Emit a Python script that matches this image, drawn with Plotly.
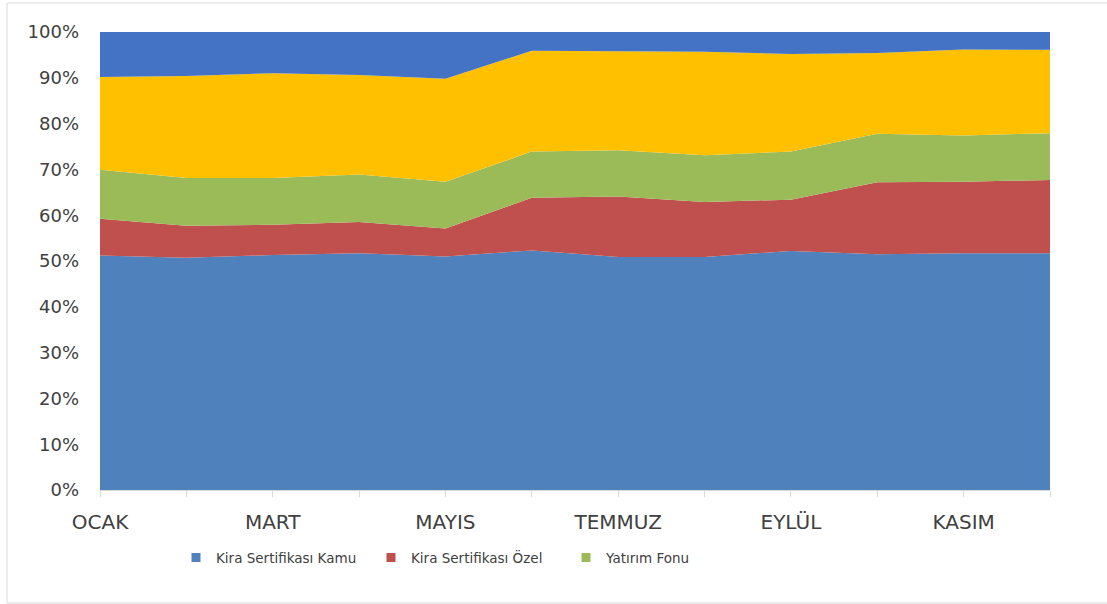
import plotly.graph_objects as go

months = ["OCAK", "ŞUBAT", "MART", "NİSAN", "MAYIS", "HAZİRAN",
          "TEMMUZ", "AĞUSTOS", "EYLÜL", "EKİM", "KASIM", "ARALIK"]
tick_labels = ["OCAK", "", "MART", "", "MAYIS", "", "TEMMUZ", "", "EYLÜL", "", "KASIM", ""]

kira_kamu = [51.2, 50.7, 51.3, 51.7, 51.0, 52.3, 50.9, 50.9, 52.2, 51.5, 51.7, 51.7]
kira_ozel = [8.0, 7.0, 6.6, 6.8, 6.1, 11.5, 13.2, 12.0, 11.2, 15.7, 15.6, 16.0]
yatirim_fonu = [10.7, 10.4, 10.2, 10.4, 10.2, 10.1, 10.1, 10.2, 10.5, 10.6, 10.1, 10.2]
katilma_hesabi = [20.3, 22.3, 22.9, 21.7, 22.5, 22.0, 21.6, 22.6, 21.3, 17.6, 18.8, 18.2]
diger = [9.8, 9.6, 9.0, 9.4, 10.2, 4.1, 4.2, 4.3, 4.8, 4.6, 3.8, 3.9]

series = [
    ("Kira Sertifikası Kamu", kira_kamu, "#4F81BD", True),
    ("Kira Sertifikası Özel", kira_ozel, "#C0504D", True),
    ("Yatırım Fonu", yatirim_fonu, "#9BBB59", True),
    ("Katılma Hesabı", katilma_hesabi, "#FFC000", False),
    ("Diğer", diger, "#4472C4", False),
]

fig = go.Figure()
for name, vals, color, _ in series:
    fig.add_trace(go.Scatter(
        x=months, y=vals, name=name, mode="none",
        stackgroup="one", groupnorm="percent",
        fillcolor=color, line=dict(width=0),
        showlegend=False, hoverinfo="x+y+name",
    ))
# legend entries (small squares like the original)
for name, vals, color, show in series:
    if show:
        fig.add_trace(go.Scatter(
            x=[None], y=[None], name=name, mode="markers",
            marker=dict(symbol="square", size=9, color=color),
            showlegend=True,
        ))

font_family = "DejaVu Sans"
fig.update_layout(
    width=1107, height=604,
    margin=dict(l=100, r=57, t=32, b=114),
    paper_bgcolor="white", plot_bgcolor="white",
    font=dict(family=font_family, color="#404040"),
    showlegend=True,
    legend=dict(
        orientation="h", traceorder="normal",
        x=0.08, xanchor="left", y=-0.148, yanchor="middle",
        font=dict(size=13.5, color="#404040"),
        itemwidth=30, entrywidth=150, entrywidthmode="pixels",
        bgcolor="rgba(0,0,0,0)",
    ),
    xaxis=dict(
        type="category", range=[0, 11],
        tickmode="array", tickvals=months, ticktext=tick_labels,
        showgrid=False, zeroline=False,
        showline=True, linecolor="#d9d9d9", linewidth=1,
        ticks="outside", ticklen=6, tickcolor="#d9d9d9",
        tickfont=dict(size=20, color="#404040"),
        ticklabelstandoff=8,
    ),
    yaxis=dict(
        range=[0, 100], tickmode="array",
        tickvals=[0, 10, 20, 30, 40, 50, 60, 70, 80, 90, 100],
        ticktext=["0%", "10%", "20%", "30%", "40%", "50%", "60%", "70%", "80%", "90%", "100%"],
        showgrid=False, zeroline=False, showline=False,
        tickfont=dict(size=18, color="#404040"),
        ticklabelstandoff=20,
    ),
    shapes=[
        dict(type="line", xref="paper", yref="paper",
             x0=(7 - 100) / 950, x1=(7 - 100) / 950, y0=(490 - 3) / 458, y1=(490 - 603) / 458,
             line=dict(color="#d9d9d9", width=1)),
        dict(type="line", xref="paper", yref="paper",
             x0=(7 - 100) / 950, x1=(1107 - 100) / 950, y0=(490 - 3) / 458, y1=(490 - 3) / 458,
             line=dict(color="#d9d9d9", width=1)),
        dict(type="line", xref="paper", yref="paper",
             x0=(7 - 100) / 950, x1=(1107 - 100) / 950, y0=(490 - 603) / 458, y1=(490 - 603) / 458,
             line=dict(color="#d9d9d9", width=1)),
    ],
)

fig.write_html("out.html", config={"displayModeBar": False},
               post_script="document.body.style.margin='0';")
